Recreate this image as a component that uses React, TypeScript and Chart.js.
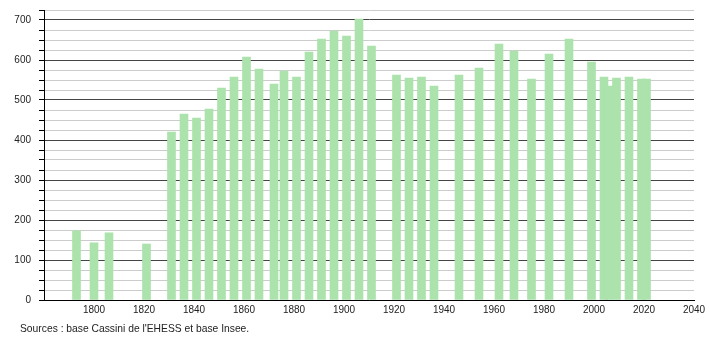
import React, { useEffect, useRef } from 'react';
import { Chart, registerables } from 'chart.js';

Chart.register(...registerables);

const years = [
  1793, 1800, 1806, 1821, 1831, 1836, 1841, 1846, 1851, 1856, 1861, 1866, 1872,
  1876, 1881, 1886, 1891, 1896, 1901, 1906, 1911, 1921, 1926, 1931, 1936, 1946,
  1954, 1962, 1968, 1975, 1982, 1990, 1999, 2004, 2006, 2009, 2014, 2019, 2021,
];
const population = [
  173, 143, 168, 140, 420, 465, 455, 477, 530, 557, 607, 577, 540,
  572, 557, 620, 652, 672, 660, 702, 635, 562, 555, 557, 535, 562,
  580, 640, 622, 552, 615, 652, 595, 557, 535, 555, 557, 552, 552,
];
const xMin = 1780;
const xMax = 2040;
const yMin = 0;
const yMax = 725;
const sourceText = "Sources : base Cassini de l'EHESS et base Insee.";

const FONT = "'Liberation Sans', Arial, Helvetica, sans-serif";

export default function App() {
  const ref = useRef<HTMLCanvasElement | null>(null);
  useEffect(() => {
    if (!ref.current) return;
    const chart = new Chart(ref.current, {
      type: 'bar',
      data: {
        datasets: [
          {
            data: years.map((y, i) => ({ x: y, y: population[i] })),
            backgroundColor: 'rgb(172,226,172)',
            borderWidth: 0,
            barThickness: 8,
          },
        ],
      },
      options: {
        responsive: false,
        animation: false,
        layout: { padding: { top: 0, right: 16, left: 0, bottom: 0 } },
        plugins: { legend: { display: false }, tooltip: { enabled: false }, title: { display: false } },
        scales: {
          x: {
            type: 'linear',
            min: xMin,
            max: xMax,
            offset: false,
            grid: { display: false, drawTicks: false },
            border: { display: true, color: '#000', width: 1 },
            ticks: {
              stepSize: 20,
              autoSkip: false,
              maxRotation: 0,
              padding: 4,
              color: '#222',
              font: { family: FONT, size: 10 },
              callback: (v: any) => (Number(v) === xMin ? '' : String(v)),
            },
            afterFit: (s: any) => {
              s.height = 40;
            },
          },
          y: {
            min: yMin,
            max: yMax,
            grid: {
              color: (ctx: any) => (ctx.tick && ctx.tick.value % 100 === 0 ? '#444' : '#ccc'),
              tickColor: '#000',
              tickLength: 5,
            },
            border: { display: true, color: '#000', width: 1 },
            ticks: {
              stepSize: 25,
              autoSkip: false,
              padding: 8,
              color: '#222',
              font: { family: FONT, size: 10 },
              callback: (v: any) => (Number(v) % 100 === 0 ? String(v) : ''),
            },
            afterFit: (s: any) => {
              s.width = 44;
              s.paddingTop = 10;
              s.paddingBottom = 0;
            },
          },
        },
      },
    });
    return () => chart.destroy();
  }, []);

  return (
    <div style={{ position: 'fixed', left: 0, top: 0, width: 710, height: 340, background: '#fff' }}>
      <canvas ref={ref} width={710} height={340} />
      <div
        style={{
          position: 'absolute',
          left: 20,
          top: 323,
          fontFamily: FONT,
          fontSize: 10.3,
          color: '#222',
          whiteSpace: 'nowrap',
        }}
      >
        {sourceText}
      </div>
    </div>
  );
}
